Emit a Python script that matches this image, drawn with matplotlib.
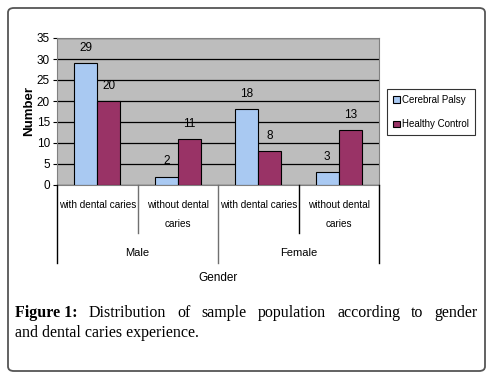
import matplotlib
matplotlib.use('Agg')
import matplotlib.pyplot as plt
from matplotlib.patches import FancyBboxPatch
from matplotlib.lines import Line2D
import numpy as np

groups = ['with dental caries', 'without dental\ncaries', 'with dental caries', 'without dental\ncaries']
genders = ['Male', 'Female']
series = ['Cerebral Palsy', 'Healthy Control']
cerebral_palsy = [29, 2, 18, 3]
healthy_control = [20, 11, 8, 13]

plt.rcParams['font.family'] = ['Liberation Sans', 'DejaVu Sans']

W, H = 491, 381
fig = plt.figure(figsize=(W / 100, H / 100), dpi=100)

def fx(px):
    return px / W

def fy(py):
    return 1 - py / H

# outer frame
fig.patches.append(FancyBboxPatch((fx(8), fy(371)), fx(477), fy(8) - fy(371),
                                  boxstyle='round,pad=0,rounding_size=0.012',
                                  transform=fig.transFigure, fill=False,
                                  edgecolor='#555555', linewidth=1.3))

left, right, top, bottom = 57, 379, 38, 185
ax = fig.add_axes([fx(left), fy(bottom), fx(right - left), fy(top) - fy(bottom)])
ax.set_facecolor('#bdbdbd')

x = np.arange(len(groups))
bw = 0.286
b1 = ax.bar(x - bw / 2, cerebral_palsy, bw, color='#a9c9f2', edgecolor='black', linewidth=0.8, label=series[0], zorder=3)
b2 = ax.bar(x + bw / 2, healthy_control, bw, color='#993366', edgecolor='black', linewidth=0.8, label=series[1], zorder=3)
for bars, vals in [(b1, cerebral_palsy), (b2, healthy_control)]:
    for r, v in zip(bars, vals):
        ax.annotate(str(v), (r.get_x() + r.get_width() / 2, v), xytext=(0, 11),
                    textcoords='offset points', ha='center', va='center', fontsize=8.5)

ax.set_xlim(-0.5, 3.5)
ax.set_ylim(0, 35)
ax.set_yticks(range(0, 36, 5))
ax.yaxis.grid(True, color='black', linewidth=0.9, zorder=1)
ax.set_axisbelow(True)
ax.set_xticks([])
ax.tick_params(axis='y', length=3, labelsize=8.5, pad=2)
for s in ax.spines.values():
    s.set_color('#808080')

ax.set_ylabel('Number', fontsize=9.5, fontweight='bold', labelpad=1)

# category rows below axis
for i, g in enumerate(groups):
    cx = left + (i + 0.5) * (right - left) / 4
    fig.text(fx(cx), fy(200), g, ha='center', va='top', fontsize=7.2, linespacing=2.1)
for j, g in enumerate(genders):
    cx = left + (j + 0.5) * (right - left) / 2
    fig.text(fx(cx), fy(253), g, ha='center', va='center', fontsize=8)
fig.text(fx(218), fy(278), 'Gender', ha='center', va='center', fontsize=8.5)

for k in range(5):
    px = left + k * (right - left) / 4
    end = 233 if k % 2 else 263
    fig.add_artist(Line2D([fx(px), fx(px)], [fy(bottom), fy(end)], color='black' if k in (0, 3, 4) else '#707070',
                          linewidth=1.0, transform=fig.transFigure))

leg = ax.legend(loc='upper left', bbox_to_anchor=(fx(387), fy(89)), bbox_transform=fig.transFigure,
                fontsize=7, frameon=True, fancybox=False, edgecolor='black', handlelength=0.7,
                handleheight=0.7, handletextpad=0.25, borderpad=0.6, labelspacing=1.5, borderaxespad=0)
leg.get_frame().set_linewidth(0.8)

# caption, first line justified
serif = 'Liberation Serif'
cap1 = ['Figure 1:', 'Distribution', 'of', 'sample', 'population', 'according', 'to', 'gender']
cap2 = 'and dental caries experience.'
fig.canvas.draw()
r = fig.canvas.get_renderer()
texts = []
for i, w in enumerate(cap1):
    t = fig.text(0, fy(313), w, fontsize=11.5, family=serif, va='center',
                 fontweight='bold' if i == 0 else 'normal')
    texts.append(t)
widths = [t.get_window_extent(r).width for t in texts]
x0, x1 = 15, 478
gap = (x1 - x0 - sum(widths)) / (len(cap1) - 1)
pos = x0
for t, wd in zip(texts, widths):
    t.set_x(fx(pos))
    pos += wd + gap
fig.text(fx(15), fy(333), cap2, fontsize=11.5, family=serif, va='center')

fig.savefig('out.png', dpi=100)
